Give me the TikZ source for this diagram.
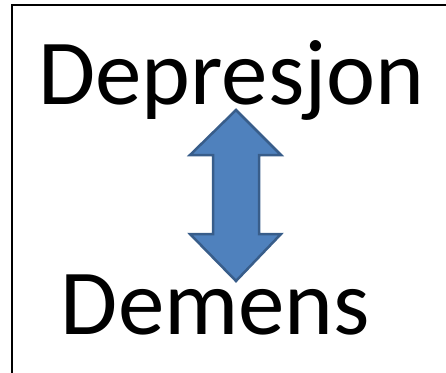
\documentclass[tikz,border=0pt]{standalone}
\usepackage{fontspec}
\setmainfont{Carlito}
\begin{document}
\begin{tikzpicture}[x=1pt,y=-1pt]
			\useasboundingbox (0,0) rectangle (446,372);
			\draw[line width=1.2pt] (12,380)--(12,5)--(450,5);
			\node[anchor=base,inner sep=0pt,font=\fontsize{93}{93}\selectfont] (dep) at (231.5,104) {Depresjon};
			\node[anchor=base,inner sep=0pt,font=\fontsize{93}{93}\selectfont] (dem) at (215.5,334) {Demens};
			\draw[line width=2.5pt,draw={rgb,255:red,56;green,93;blue,138},fill={rgb,255:red,79;green,129;blue,189},line join=miter]
				(236,110)--(281,155)--(259,155)--(259,234)--(281,234)--(236,281)
				--(190,234)--(213,234)--(213,155)--(190,155)--cycle;
		\end{tikzpicture}
\end{document}
